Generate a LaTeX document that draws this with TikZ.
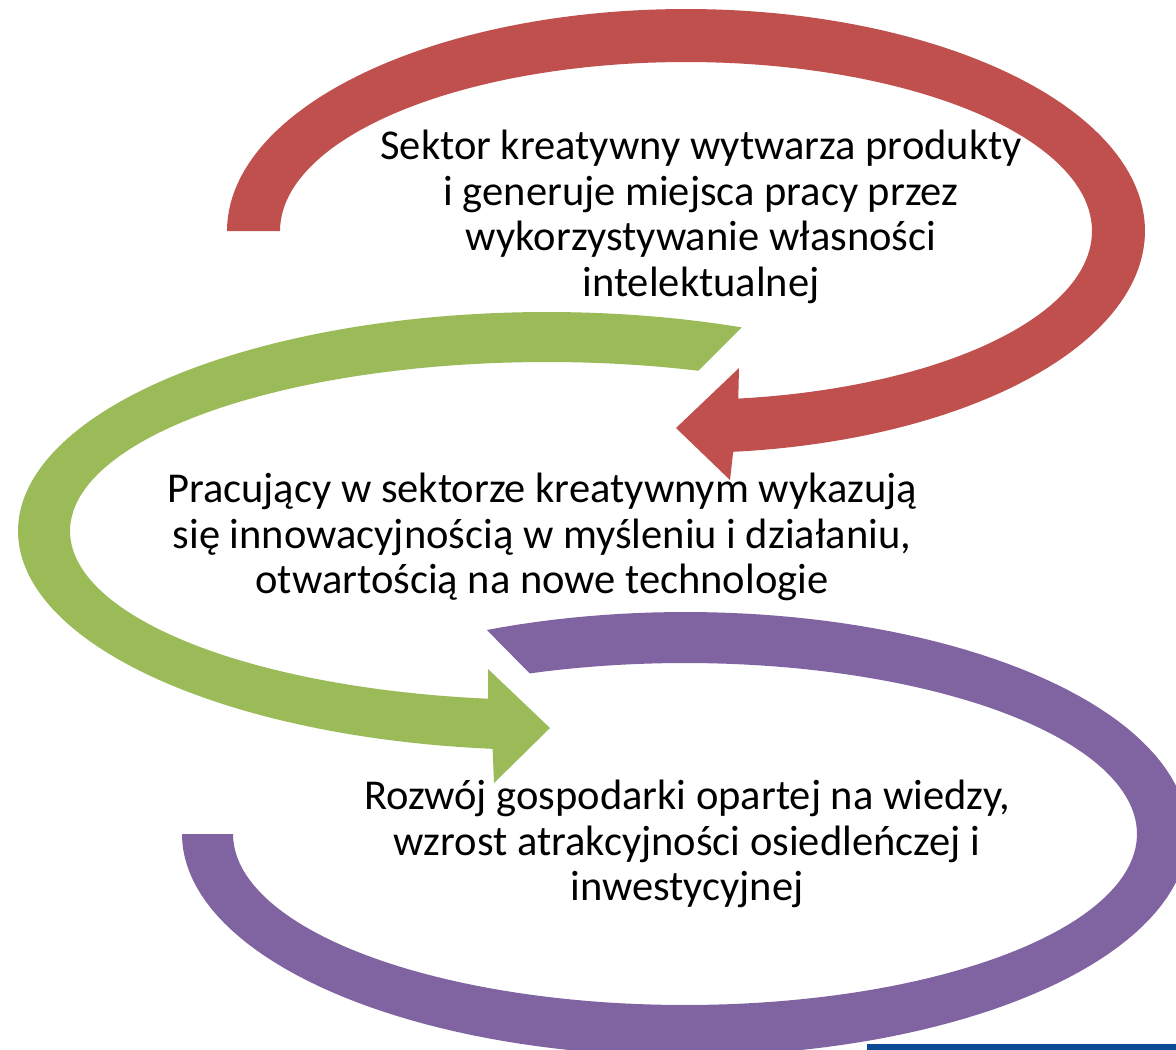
\documentclass[tikz,border=0pt]{standalone}
\usepackage{fontspec}
\setmainfont{Carlito}
\definecolor{arcred}{HTML}{C0504D}
\definecolor{arcgreen}{HTML}{9BBB59}
\definecolor{arcpurple}{HTML}{8064A2}
\definecolor{barblue}{HTML}{0B4A94}
\tikzset{
  txt/.style={font=\fontsize{42.5}{45.5}\selectfont, align=center, inner sep=0pt, text=black},
}
\begin{document}
\begin{tikzpicture}[x=1pt,y=-1pt]
\useasboundingbox (0,0) rectangle (1176,1050);
\clip (0,0) rectangle (1176,1050);
\fill[white] (0,0) rectangle (1176,1050);
% red arc arrow
\fill[arcred] plot[domain=180:444.1,samples=150] ({686+459*cos(\x)},{231+222*sin(\x)})
  -- (730,480) -- (676,428) -- (739,368)
  -- plot[domain=442.6:180,samples=150] ({686+406*cos(\x)},{231+169*sin(\x)}) -- cycle;
% green arc arrow
\fill[arcgreen] plot[domain=291.6:95.9,samples=150] ({547+529*cos(\x)},{531+219*sin(\x)})
  -- (494,783) -- (550,728) -- (488,669)
  -- plot[domain=97.1:288.5,samples=150] ({547+477*cos(\x)},{531+169*sin(\x)}) -- cycle;
% purple arc
\fill[arcpurple] plot[domain=246.8:540,samples=150] ({685+503*cos(\x)},{834+222*sin(\x)})
  -- plot[domain=540:249.9,samples=150] ({685+452*cos(\x)},{834+171*sin(\x)}) -- cycle;
% blue bar
\fill[barblue] (867,1044) rectangle (1176,1050);
% texts
\node[txt] (t1) at (701,217) {Sektor kreatywny wytwarza produkty\\i generuje miejsca pracy przez\\wykorzystywanie własności\\intelektualnej};
\node[txt] (t2) at (542,537) {Pracujący w sektorze kreatywnym wykazują\\się innowacyjnością w myśleniu i działaniu,\\otwartością na nowe technologie};
\node[txt] (t3) at (687,844) {Rozwój gospodarki opartej na wiedzy,\\wzrost atrakcyjności osiedleńczej i\\inwestycyjnej};
\end{tikzpicture}
\end{document}
